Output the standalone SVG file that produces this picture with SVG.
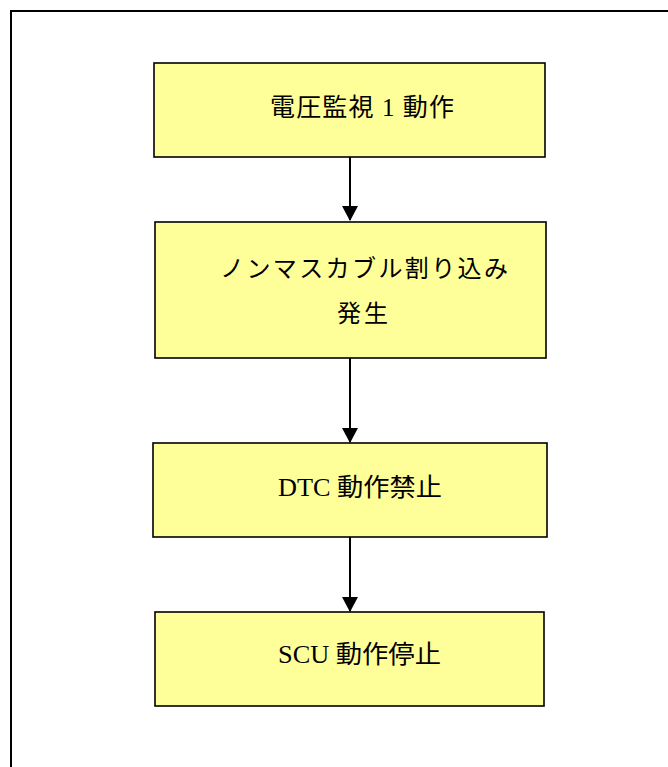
<svg xmlns="http://www.w3.org/2000/svg" width="668" height="767" viewBox="0 0 668 767">
<style>
.box{fill:#FFFF99;stroke:#000;stroke-width:1.6}
.t{font-family:"Liberation Serif","Noto Sans CJK JP",serif;fill:#000}
.c{stroke:#000;stroke-width:2;fill:none}
</style>
<defs>
<marker id="ah" markerUnits="userSpaceOnUse" markerWidth="16" markerHeight="16" viewBox="0 0 16 16" refX="14" refY="8" orient="auto">
<path d="M0,0 L15,8 L0,16 Z" fill="#000"/>
</marker>
</defs>
<rect width="668" height="767" fill="#fff"/>
<path d="M11,767 V11 H668" fill="none" stroke="#000" stroke-width="2"/>
<g id="connectors">
<line class="c" x1="350" y1="157" x2="350" y2="220" marker-end="url(#ah)"/>
<line class="c" x1="350" y1="358" x2="350" y2="442" marker-end="url(#ah)"/>
<line class="c" x1="350" y1="537" x2="350" y2="611" marker-end="url(#ah)"/>
</g>
<g id="n1">
<rect class="box" x="154" y="63" width="391" height="94"/>
<text class="t" x="270" y="116" font-size="25" textLength="184" lengthAdjust="spacing">電圧監視 1 動作</text>
</g>
<g id="n2">
<rect class="box" x="155" y="222" width="391" height="136"/>
<text class="t" x="220" y="277" font-size="24" textLength="288" lengthAdjust="spacing">ノンマスカブル割り込み</text>
<text class="t" x="337" y="322" font-size="24" textLength="51" lengthAdjust="spacing">発生</text>
</g>
<g id="n3">
<rect class="box" x="153" y="443" width="394" height="94"/>
<text class="t" x="278" y="496" font-size="25" textLength="164" lengthAdjust="spacingAndGlyphs">DTC 動作禁止</text>
</g>
<g id="n4">
<rect class="box" x="155" y="612" width="389" height="94"/>
<text class="t" x="278" y="663" font-size="25" textLength="163" lengthAdjust="spacingAndGlyphs">SCU 動作停止</text>
</g>
</svg>
